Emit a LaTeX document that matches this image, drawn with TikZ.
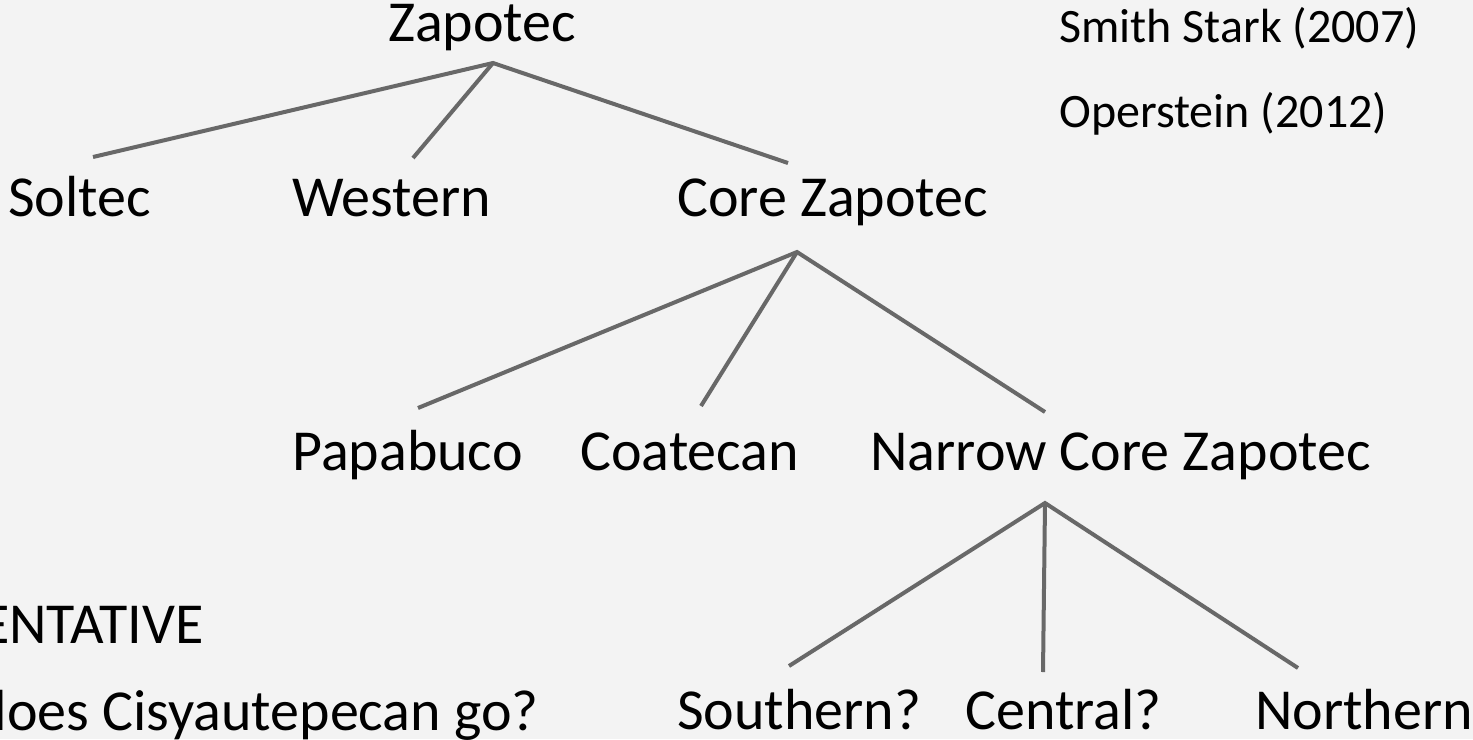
\documentclass[tikz,border=0pt]{standalone}
\usepackage{fontspec}
\setmainfont{Carlito}
\definecolor{bgcol}{RGB}{243,243,243}
\definecolor{linecol}{RGB}{104,104,104}
\begin{document}
\begin{tikzpicture}[x=0.75pt,y=-0.75pt,
  big/.style={inner sep=0pt,anchor=base west,font=\fontsize{43.5pt}{52pt}\selectfont},
  small/.style={inner sep=0pt,anchor=base west,font=\fontsize{36pt}{43pt}\selectfont},
  branch/.style={draw=linecol,line width=3pt}]
\fill[bgcol] (0,0) rectangle (1473,739);
\useasboundingbox (0,0) rectangle (1473,739);
\clip (0,0) rectangle (1473,739);

% labels of the tree
\node[big] (zap) at (388,41) {Zapotec};
\node[small] (smith) at (1059,42) {Smith Stark (2007)};
\node[small] (oper) at (1059,127) {Operstein (2012)};
\node[big] (soltec) at (8,216) {Soltec};
\node[big] (western) at (292,216) {Western};
\node[big] (core) at (677,216) {Core Zapotec};
\node[big] (papa) at (292,470) {Papabuco};
\node[big] (coat) at (580,470) {Coatecan};
\node[big] (narrow) at (870,470) {Narrow Core Zapotec};
\node[big,anchor=base east] (tent) at (204,643) {ENTATIVE};
\node[big,anchor=base east] (where) at (539,730) {does Cisyautepecan go?};
\node[big] (south) at (677,729) {Southern?};
\node[big] (central) at (965,729) {Central?};
\node[big] (north) at (1255,729) {Northern};

% branch points and branch ends
\coordinate (zapA) at (493,63);
\coordinate (solE) at (93,157);
\coordinate (wesE) at (413,158);
\coordinate (corE) at (788,163);
\coordinate (corA) at (797,252);
\coordinate (papE) at (418,408);
\coordinate (coaE) at (701,406);
\coordinate (narE) at (1045,412);
\coordinate (narA) at (1045,503);
\coordinate (souE) at (789,666);
\coordinate (cenE) at (1043,672);
\coordinate (norE) at (1298,668);

\draw[branch] (solE) -- (zapA) -- (corE);
\draw[branch] (zapA) -- (wesE);
\draw[branch] (papE) -- (corA) -- (narE);
\draw[branch] (corA) -- (coaE);
\draw[branch] (souE) -- (narA) -- (norE);
\draw[branch] (narA) -- (cenE);
\end{tikzpicture}
\end{document}
